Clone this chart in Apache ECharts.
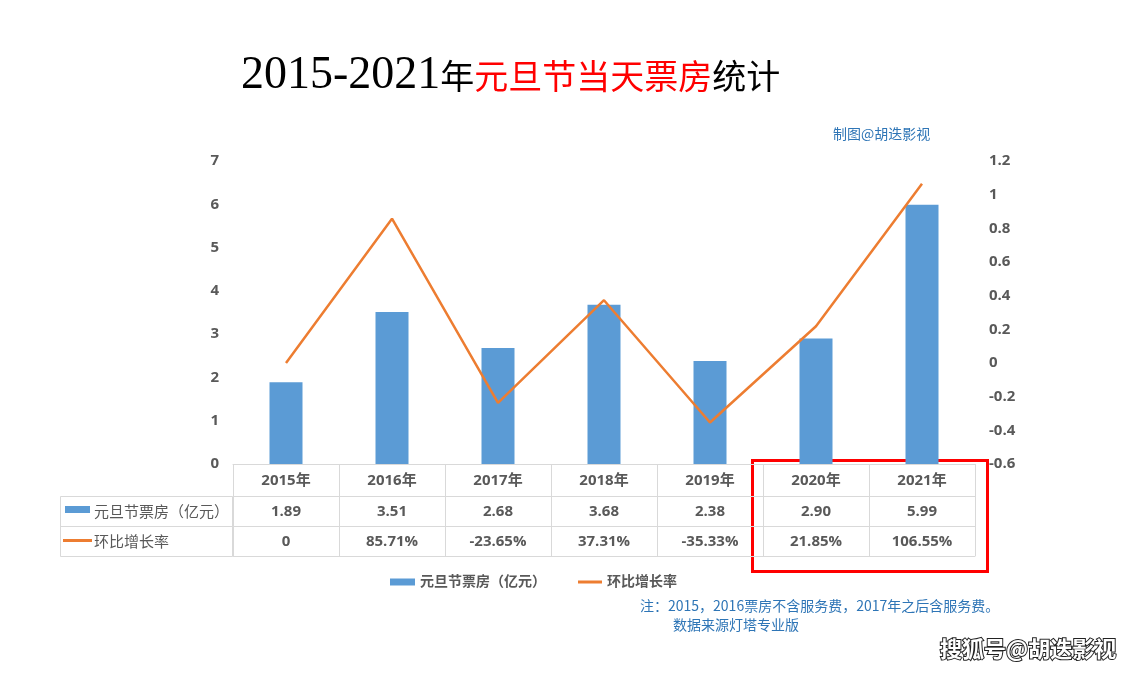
<!DOCTYPE html>
<html>
<head>
<meta charset="utf-8">
<script src="https://cdn.jsdelivr.net/npm/echarts@6/dist/echarts.min.js"></script>
<style>
  html, body { margin: 0; padding: 0; background: #fff; }
  #chart { width: 1145px; height: 674px; }
</style>
</head>
<body>
<div id="chart"></div>
<script>
// 数据
const years = ['2015年', '2016年', '2017年', '2018年', '2019年', '2020年', '2021年'];
const boxOffice = [1.89, 3.51, 2.68, 3.68, 2.38, 2.90, 5.99];
const growthRate = [0, 0.8571, -0.2365, 0.3731, -0.3533, 0.2185, 1.0655];
const seriesNames = ['元旦节票房（亿元）', '环比增长率'];

const grey = '#595959';
const lineGrey = '#d9d9d9';
const cnFont = '"Open Sans", "Noto Sans CJK SC", sans-serif';

// 表格里的两行文字
const boxLabels = boxOffice.map(v => v.toFixed(2));
const rateLabels = growthRate.map(v => v === 0 ? '0' : (v * 100).toFixed(2) + '%');

function tableAxis(data, offset, showLabel) {
  return {
    type: 'category',
    position: 'bottom',
    offset: offset,
    data: data,
    axisLine: { show: true, onZero: false, lineStyle: { color: lineGrey, width: 1 } },
    axisTick: { show: false },
    axisLabel: {
      show: showLabel,
      margin: 8,
      interval: 0,
      color: grey,
      fontSize: 15,
      fontWeight: 'bold',
      fontFamily: cnFont
    }
  };
}

const myChart = echarts.init(document.getElementById('chart'));

const options = {
  backgroundColor: '#fff',
  animation: false,
  title: [
    {
      left: 236,
      top: 48,
      text: '{a|2015-2021}{b|年}{r|元旦节当天票房}{b|统计}',
      textStyle: {
        fontWeight: 'normal',
        rich: {
          a: { fontFamily: '"Liberation Serif", serif', fontSize: 46, fontWeight: 'normal', color: '#000' },
          b: { fontFamily: '"Noto Sans CJK SC"', fontSize: 34, fontWeight: 'normal', color: '#000' },
          r: { fontFamily: '"Noto Sans CJK SC"', fontSize: 34, fontWeight: 'normal', color: '#ff0000' }
        }
      }
    },
    {
      left: 828,
      top: 122,
      text: '制图@胡迭影视',
      textStyle: { fontFamily: '"Noto Sans CJK SC"', fontSize: 14, fontWeight: 'normal', color: '#2e75b6' }
    }
  ],
  legend: [
    {
      left: 385,
      top: 570,
      itemWidth: 25,
      itemHeight: 7,
      textStyle: { color: grey, fontSize: 14, fontWeight: 'bold', fontFamily: cnFont },
      data: [{ name: seriesNames[0], icon: 'rect' }]
    },
    {
      left: 573,
      top: 570,
      itemWidth: 24,
      itemHeight: 3,
      textStyle: { color: grey, fontSize: 14, fontWeight: 'bold', fontFamily: cnFont },
      data: [{ name: seriesNames[1], icon: 'rect' }]
    }
  ],
  grid: { left: 233, right: 170, top: 161, bottom: 210 },
  xAxis: [
    {
      type: 'category',
      data: years,
      axisLine: { show: true, onZero: false, lineStyle: { color: lineGrey, width: 1 } },
      axisTick: { show: true, length: 92, interval: 0, lineStyle: { color: lineGrey } },
      axisLabel: {
        margin: 9,
        interval: 0,
        color: grey,
        fontSize: 15,
        fontWeight: 'bold',
        fontFamily: cnFont
      }
    },
    tableAxis(boxLabels, 32, true),
    tableAxis(rateLabels, 62, true),
    tableAxis(years, 92, false)
  ],
  yAxis: [
    {
      type: 'value',
      min: 0,
      max: 7,
      interval: 1,
      axisLine: { show: false },
      axisTick: { show: false },
      splitLine: { show: false },
      axisLabel: { margin: 14, color: grey, fontSize: 15, fontWeight: 'bold', fontFamily: cnFont }
    },
    {
      type: 'value',
      min: -0.6,
      max: 1.2,
      interval: 0.2,
      axisLine: { show: false },
      axisTick: { show: false },
      splitLine: { show: false },
      axisLabel: {
        margin: 14,
        color: grey,
        fontSize: 15,
        fontWeight: 'bold',
        fontFamily: cnFont,
        formatter: v => String(Math.round(v * 10) / 10)
      }
    }
  ],
  series: [
    {
      name: seriesNames[0],
      type: 'bar',
      data: boxOffice,
      barWidth: 33,
      itemStyle: { color: '#5b9bd5' }
    },
    {
      name: seriesNames[1],
      type: 'line',
      yAxisIndex: 1,
      data: growthRate,
      symbol: 'none',
      lineStyle: { color: '#ed7d31', width: 2.5 },
      itemStyle: { color: '#ed7d31' }
    }
  ],
  graphic: [
    // 表格左侧标题列
    {
      type: 'rect',
      shape: { x: 60.5, y: 496.5, width: 172, height: 60 },
      style: { fill: 'none', stroke: lineGrey, lineWidth: 1 }
    },
    {
      type: 'line',
      shape: { x1: 60, y1: 526.5, x2: 233, y2: 526.5 },
      style: { stroke: lineGrey, lineWidth: 1 }
    },
    {
      type: 'rect',
      shape: { x: 65, y: 506, width: 25, height: 7 },
      style: { fill: '#5b9bd5' }
    },
    {
      type: 'text',
      x: 94, y: 511,
      style: { text: seriesNames[0], fill: grey, font: '15px "Noto Sans CJK SC"', textVerticalAlign: 'middle' }
    },
    {
      type: 'line',
      shape: { x1: 63, y1: 540.5, x2: 92, y2: 540.5 },
      style: { stroke: '#ed7d31', lineWidth: 3 }
    },
    {
      type: 'text',
      x: 94, y: 541,
      style: { text: seriesNames[1], fill: grey, font: '15px "Noto Sans CJK SC"', textVerticalAlign: 'middle' }
    },
    // 红框
    {
      type: 'rect',
      shape: { x: 752.5, y: 460.5, width: 235, height: 111 },
      style: { fill: 'none', stroke: '#ff0000', lineWidth: 3 }
    },
    // 注释
    {
      type: 'text',
      x: 640, y: 599,
      style: { text: '注：2015，2016票房不含服务费，2017年之后含服务费。', fill: '#2e75b6', font: '14px "Noto Sans CJK SC"' }
    },
    {
      type: 'text',
      x: 673, y: 618,
      style: { text: '数据来源灯塔专业版', fill: '#2e75b6', font: '14px "Noto Sans CJK SC"' }
    },
    // 水印
    {
      type: 'text',
      x: 940, y: 638,
      style: {
        text: '搜狐号@胡迭影视',
        fill: '#fff',
        stroke: '#222',
        lineWidth: 2,
        font: 'bold 22px "Noto Sans CJK SC"'
      }
    }
  ]
};

myChart.setOption(options);
</script>
</body>
</html>
